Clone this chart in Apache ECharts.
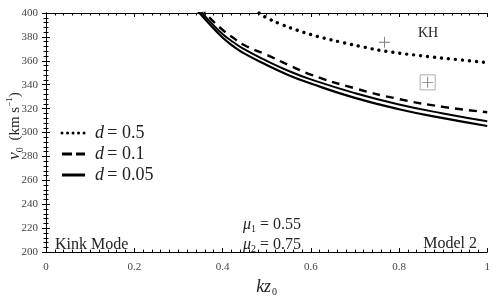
<!DOCTYPE html>
<html>
<head>
<meta charset="utf-8">
<script src="https://cdn.jsdelivr.net/npm/echarts@6/dist/echarts.min.js"></script>
<style>
  html, body { margin: 0; padding: 0; background: #fff; }
  #chart { width: 493px; height: 302px; }
</style>
</head>
<body>
<div id="chart"></div>
<script>
var FONT = 'Liberation Serif';

// curves: kz0 vs v0 (km/s); first point sits just above the frame and is clipped
var kzD05 = [0.47, 0.483, 0.5, 0.53, 0.57, 0.6, 0.63, 0.67, 0.72, 0.77, 0.88, 0.934, 1.0];
var vD05 = [403.5, 400, 396, 391, 385.5, 382, 379, 375.5, 371.5, 368, 363, 361, 358.5];

var kzD01 = [0.35, 0.362, 0.375, 0.4, 0.425, 0.45, 0.5, 0.55, 0.6, 0.7, 0.8, 0.9, 1.0];
var vD01 = [405.5, 400, 394.5, 386, 379, 373, 365, 356.5, 348.5, 337, 328, 321.5, 317];

var kzD005 = [0.34, 0.354, 0.375, 0.4, 0.425, 0.45, 0.5, 0.55, 0.6, 0.7, 0.8, 0.9, 1.0];
var vD005 = [406.5, 400, 391.5, 382.5, 375.5, 369.5, 360, 351.5, 344.5, 333, 323.5, 316, 309.5];

var kzLow = [0.335, 0.348, 0.375, 0.4, 0.425, 0.45, 0.5, 0.55, 0.6, 0.7, 0.8, 0.9, 1.0];
var vLow = [406, 400, 389, 379.5, 372, 366, 356.5, 348, 341, 329, 319.5, 312, 305.5];

// markers
var plusPoint = [0.767, 375.5];
var boxedPoint = [0.865, 342];

var xTicks = [0, 0.2, 0.4, 0.6, 0.8, 1];
var yTicks = [200, 220, 240, 260, 280, 300, 320, 340, 360, 380, 400];

var legendNames = ['0.5', '0.1', '0.05'];

function pairs(xs, ys) {
  return xs.map(function (x, i) { return [x, ys[i]]; });
}

var chart = echarts.init(document.getElementById('chart'));

function xAxisBase(pos, labels) {
  return {
    type: 'value', position: pos, min: 0, max: 1, interval: 0.2,
    axisLine: { show: true, lineStyle: { color: '#000', width: 1 } },
    axisTick: { show: true, inside: true, length: 4, lineStyle: { color: '#000' } },
    minorTick: { show: true, splitNumber: 10, length: 2.5, lineStyle: { color: '#000' } },
    splitLine: { show: false },
    axisLabel: {
      show: labels, fontFamily: FONT, fontSize: 11, color: '#444', margin: 10,
      formatter: function (v) { return String(+v.toFixed(1)); }
    }
  };
}

function yAxisBase(pos, labels) {
  return {
    type: 'value', position: pos, min: 200, max: 400, interval: 20,
    axisLine: { show: true, lineStyle: { color: '#000', width: 1 } },
    axisTick: { show: true, inside: true, length: 4, lineStyle: { color: '#000' } },
    minorTick: { show: true, splitNumber: 5, length: 2.5, lineStyle: { color: '#000' } },
    splitLine: { show: false },
    axisLabel: { show: labels, fontFamily: FONT, fontSize: 11, color: '#444', margin: 8 }
  };
}

var xMain = xAxisBase('bottom', true);
xMain.name = '{i|kz}{s|0}';
xMain.nameLocation = 'middle';
xMain.nameGap = 24;
xMain.nameTextStyle = {
  rich: {
    i: { fontFamily: FONT, fontStyle: 'italic', fontSize: 18, color: '#222' },
    s: { fontFamily: FONT, fontSize: 10, color: '#222', padding: [10, 0, 0, 1] }
  }
};

// hand-drawn legend (line samples + labels)
var legendY = [133, 154, 175];
var legendDash = [[0.01, 5.5], [10, 4], null];
var legendGraphics = [];
legendNames.forEach(function (n, i) {
  legendGraphics.push({
    type: 'line',
    shape: { x1: 62, y1: legendY[i], x2: 85, y2: legendY[i] },
    style: {
      stroke: '#000', lineWidth: 3,
      lineDash: legendDash[i], lineCap: i === 0 ? 'round' : 'butt'
    }
  });
  legendGraphics.push({
    type: 'text', x: 95, y: legendY[i],
    style: {
      text: '{i|d} {n|= ' + n + '}', align: 'left', verticalAlign: 'middle',
      rich: {
        i: { fontFamily: FONT, fontStyle: 'italic', fontSize: 18, fill: '#222' },
        n: { fontFamily: FONT, fontSize: 18, fill: '#222' }
      }
    }
  });
});

function muText(idx, val, y) {
  return {
    type: 'text', x: 243, y: y,
    style: {
      text: '{m|μ}{s|' + idx + '}{n| = ' + val + '}', align: 'left', verticalAlign: 'middle',
      rich: {
        m: { fontFamily: FONT, fontStyle: 'italic', fontSize: 16, fill: '#222' },
        s: { fontFamily: FONT, fontSize: 10, fill: '#222', padding: [8, 0, 0, 0] },
        n: { fontFamily: FONT, fontSize: 16, fill: '#222' }
      }
    }
  };
}

function curve(name, xs, ys, lineStyle) {
  return {
    name: name, type: 'line', smooth: 0.5, symbol: 'none',
    data: pairs(xs, ys), lineStyle: lineStyle
  };
}

var option = {
  animation: false,
  backgroundColor: '#fff',
  grid: { left: 46, right: 4, top: 13, bottom: 35 },
  xAxis: [xMain, xAxisBase('top', false)],
  yAxis: [yAxisBase('left', true), yAxisBase('right', false)],
  series: [
    curve('d = 0.5', kzD05, vD05, { color: '#000', width: 3.4, type: [0.01, 7], cap: 'round' }),
    curve('d = 0.1', kzD01, vD01, { color: '#000', width: 2.4, type: [8, 6] }),
    curve('d = 0.05', kzD005, vD005, { color: '#000', width: 2, type: 'solid' }),
    curve('lower', kzLow, vLow, { color: '#000', width: 2.2, type: 'solid' }),
    {
      name: 'plus', type: 'scatter', symbol: 'path://M4.6,0h0.8v10h-0.8z M0,4.6h10v0.8h-10z',
      symbolSize: 11, data: [plusPoint, boxedPoint],
      itemStyle: { color: '#555' }
    },
    {
      name: 'box', type: 'scatter', symbol: 'rect', symbolSize: 15,
      data: [boxedPoint],
      itemStyle: { color: 'rgba(0,0,0,0)', borderColor: '#999', borderWidth: 1 }
    }
  ],
  graphic: legendGraphics.concat([
    {
      type: 'text', x: 5, y: 126, rotation: Math.PI / 2, originX: 0, originY: 0,
      style: {
        text: '{v|v}{s|0}  {n|(km s}{p|−1}{n|)}',
        align: 'center', verticalAlign: 'top',
        rich: {
          v: { fontFamily: FONT, fontStyle: 'italic', fontSize: 17, fill: '#222' },
          s: { fontFamily: FONT, fontSize: 10, fill: '#222', padding: [10, 0, 0, 0] },
          n: { fontFamily: FONT, fontSize: 15, fill: '#222' },
          p: { fontFamily: FONT, fontSize: 9, fill: '#222', padding: [0, 0, 10, 0] }
        }
      }
    },
    {
      type: 'text', x: 428, y: 33,
      style: { text: 'KH', fontFamily: FONT, fontSize: 14, fill: '#222', align: 'center', verticalAlign: 'middle' }
    },
    {
      type: 'text', x: 55, y: 245,
      style: { text: 'Kink Mode', fontFamily: FONT, fontSize: 16, fill: '#222', align: 'left', verticalAlign: 'middle' }
    },
    {
      type: 'text', x: 477, y: 244,
      style: { text: 'Model 2', fontFamily: FONT, fontSize: 16, fill: '#222', align: 'right', verticalAlign: 'middle' }
    },
    muText(1, '0.55', 225),
    muText(2, '0.75', 245)
  ])
};

chart.setOption(option);
</script>
</body>
</html>
